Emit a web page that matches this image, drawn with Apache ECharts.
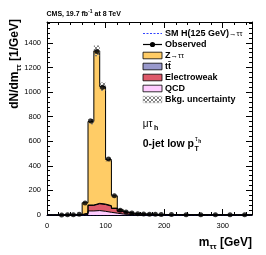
<!DOCTYPE html>
<html><head><meta charset="utf-8">
<script src="https://cdn.jsdelivr.net/npm/echarts@6/dist/echarts.min.js"></script>
<style>html,body{margin:0;padding:0;background:#fff}#c{width:266px;height:255px}</style>
</head><body><div id="c"></div>
<script>
// ---- data ----
const binEdges = [0,10,20,30,40,50,60,70,80,90,100,110,120,130,140,150,160,170,180,190,200,225,250,275,300,325,350];
const qcdValues = [0,0,0.3,0.5,0.8,1.5,4,33,36,30,22,15,8,5,3,2,1.5,1.2,1,0.8,0.6,0.4,0.3,0.2,0.1,0.1];
const ewkValues = [0,0,0.2,0.3,0.5,1,10,45,55,55,50,38,22,12,7,5,4,3,2.5,2,1.5,1,0.8,0.6,0.4,0.3];
const ttValues  = [0,0,0,0,0.1,0.1,1,3,4,4,4,3,3,2,2,1.5,1.5,1.2,1,1,0.8,0.6,0.5,0.4,0.3,0.2];
const zttValues = [0,0,0.5,1,2,4,85,680,1240,955,375,100,12,5,3,2,1.5,1,0.8,0.6,0.4,0.3,0.2,0.1,0.1,0.1];
const sigValues = [0,0,0,0,0,0,0.3,1,1.5,2,2.5,2.5,2,1.5,1,0.6,0.4,0.3,0.2,0.1,0.1,0,0,0,0,0];
const bkgUncValues = [0,0,0.1,0.1,0.2,0.3,5,24,44,34,15,6,2,1,0.6,0.4,0.3,0.3,0.2,0.2,0.1,0.1,0.1,0.1,0.05,0.05];
const observedValues = [null,null,1,2,3,6,98,765,1330,1040,455,157,38,24,16,11,8,7,6,5,4,3,2.5,2,1.5,1.2];
const xTickLabels = [0,100,200,300];
const yTickLabels = [0,200,400,600,800,1000,1200,1400];

// ---- helpers building library inputs from the arrays ----
const nBins = binEdges.length - 1;
function stepPoints(vals){ return binEdges.map((e,i)=>[e, vals[Math.min(i, nBins-1)]]); }
function addArr(a, b){ return a.map((v,i)=>v + b[i]); }
const cumQcd = qcdValues.slice();
const cumEwk = addArr(cumQcd, ewkValues);
const cumTt = addArr(cumEwk, ttValues);
const cumZtt = addArr(cumTt, zttValues);
const uncData = [];
for (let i=0;i<nBins;i++) if (bkgUncValues[i] > 0.5) uncData.push([binEdges[i], binEdges[i+1], cumZtt[i]-bkgUncValues[i], cumZtt[i]+bkgUncValues[i]]);
const obsData = [];
for (let i=0;i<nBins;i++) if (observedValues[i] !== null) obsData.push([(binEdges[i]+binEdges[i+1])/2, observedValues[i]]);

// hatch pattern
const hc = document.createElement('canvas'); hc.width = 4; hc.height = 4;
const hg = hc.getContext('2d'); hg.fillStyle = 'rgba(110,110,110,0.85)';
for (let i=0;i<4;i++){ hg.fillRect(i,i,1,1); hg.fillRect(3-i,i,1,1); }
const hatch = {image: hc, repeat: 'repeat'};

const FF = 'Liberation Sans, Arial, Helvetica, sans-serif';
const C_ZTT = '#FFCC66', C_TT = '#9999CC', C_EWK = '#DE5A6A', C_QCD = '#FFCCFF';

const axisCommon = {
  axisLine:{show:true, onZero:false, lineStyle:{color:'#000', width:1}},
  axisTick:{show:true, inside:true, length:6, lineStyle:{color:'#000', width:1}},
  minorTick:{show:true, splitNumber:5, length:3, lineStyle:{color:'#000', width:1}},
  splitLine:{show:false}, minorSplitLine:{show:false}
};

// each component drawn as its cumulative top, filled down to 0; later series paint over earlier ones
function layerSeries(name, cumVals, color){
  return {type:'line', name, step:'end', data: stepPoints(cumVals), symbol:'none',
    lineStyle:{color:'#000', width:1}, areaStyle:{color, opacity:1, origin:0}, itemStyle:{color}, z:3, silent:true};
}

const chart = echarts.init(document.getElementById('c'), null, {renderer:'canvas'});
const LX = 143, LW = 19, TX = 165;
const rows = [33.5, 44.5, 55.5, 66.5, 77.5, 88.5, 99.5];
const lt = (y, txt, rich) => ({type:'text', x:TX, y:y, style:{text:txt, rich:rich, fill:'#000', align:'left', verticalAlign:'middle', fontFamily:FF, fontSize:9, fontWeight:'bold'}, z:10});
const box = (y, fill) => ({type:'rect', shape:{x:LX, y:y-3.3, width:LW, height:6.6}, style:{fill:fill, stroke:'#000', lineWidth:0.8}, z:10});
const richLeg = {b:{fontSize:9, fontWeight:'bold', fontFamily:FF}, s:{fontSize:7.5, fontFamily:FF}};

chart.setOption({
  animation:false,
  backgroundColor:'#fff',
  grid:{left:47, top:22, width:205, height:193, outerBoundsMode:'none'},
  xAxis:[
    Object.assign({type:'value', min:0, max:350, interval:100, position:'bottom',
      axisLabel:{fontSize:7.5, color:'#000', margin:7, fontFamily:FF, formatter:v=> xTickLabels.includes(v)? String(v):''}}, axisCommon),
    Object.assign({type:'value', min:0, max:350, interval:100, position:'top', axisLabel:{show:false}}, axisCommon)
  ],
  yAxis:[
    Object.assign({type:'value', min:0, max:1570, interval:200, position:'left',
      axisLabel:{fontSize:7.5, color:'#000', margin:6, fontFamily:FF, formatter:v=> yTickLabels.includes(v)? String(v):''}}, axisCommon),
    Object.assign({type:'value', min:0, max:1570, interval:200, position:'right', axisLabel:{show:false}}, axisCommon)
  ],
  series:[
    {type:'line', name:'SM H(125 GeV)→ττ', step:'end', data: stepPoints(sigValues), symbol:'none',
      lineStyle:{color:'#0000ff', width:1, type:[2,1.5]}, z:1, silent:true},
    layerSeries('Z→ττ', cumZtt, C_ZTT),
    layerSeries('tt̄', cumTt, C_TT),
    layerSeries('Electroweak', cumEwk, C_EWK),
    layerSeries('QCD', cumQcd, C_QCD),
    {type:'custom', name:'Bkg. uncertainty', data: uncData, encode:{x:[0,1], y:[2,3]}, z:4, silent:true,
      renderItem:(params, api)=>{
        const p0 = api.coord([api.value(0), api.value(3)]);
        const p1 = api.coord([api.value(1), api.value(2)]);
        return {type:'rect', shape:{x:p0[0], y:p0[1], width:p1[0]-p0[0], height:p1[1]-p0[1]}, style:{fill:hatch}};
      }},
    {type:'scatter', name:'Observed', data: obsData, symbol:'circle', symbolSize:5, itemStyle:{color:'#000'}, z:6, silent:true}
  ],
  graphic:[
    {type:'text', x:46.5, y:14, style:{text:'{a|CMS, 19.7 fb}{u|-1}{a| at 8 TeV}', fill:'#000', align:'left', verticalAlign:'middle',
      rich:{a:{fontSize:7, fontWeight:'bold', fontFamily:FF, lineHeight:10}, u:{fontSize:5, fontWeight:'bold', fontFamily:FF, lineHeight:5, verticalAlign:'top'}}}},
    {type:'text', x:14.5, y:19, rotation:Math.PI/2, style:{text:'{a|dN/dm}{s|ττ}{a| [1/GeV]}', fill:'#000', align:'right', verticalAlign:'middle',
      rich:{a:{fontSize:12, fontWeight:'bold', fontFamily:FF, lineHeight:16}, s:{fontSize:8, fontWeight:'bold', fontFamily:FF, lineHeight:8, verticalAlign:'bottom'}}}},
    {type:'text', x:252, y:243, style:{text:'{a|m}{s|ττ}{a| [GeV]}', fill:'#000', align:'right', verticalAlign:'middle',
      rich:{a:{fontSize:12, fontWeight:'bold', fontFamily:FF, lineHeight:16}, s:{fontSize:8, fontWeight:'bold', fontFamily:FF, lineHeight:8, verticalAlign:'bottom'}}}},
    {type:'line', shape:{x1:LX, y1:rows[0], x2:LX+LW, y2:rows[0]}, style:{stroke:'#3344ff', lineWidth:1, lineDash:[2,1.5]}, z:10},
    lt(rows[0], '{b|SM H(125 GeV)}{s|→ττ}', richLeg),
    {type:'line', shape:{x1:LX, y1:rows[1], x2:LX+LW, y2:rows[1]}, style:{stroke:'#000', lineWidth:1.2}, z:10},
    {type:'circle', shape:{cx:LX+LW/2, cy:rows[1], r:2.6}, style:{fill:'#000'}, z:10},
    lt(rows[1], 'Observed'),
    box(rows[2], C_ZTT), lt(rows[2], '{b|Z}{s|→ττ}', richLeg),
    box(rows[3], C_TT), lt(rows[3], 'tt\u0304'),
    box(rows[4], C_EWK), lt(rows[4], 'Electroweak'),
    box(rows[5], C_QCD), lt(rows[5], 'QCD'),
    {type:'rect', shape:{x:LX, y:rows[6]-3.3, width:LW, height:6.6}, style:{fill:hatch, stroke:'#bbb', lineWidth:0.5}, z:10},
    lt(rows[6], 'Bkg. uncertainty'),
    {type:'text', x:142.7, y:124, style:{text:'μτ', fill:'#000', align:'left', verticalAlign:'middle', fontSize:10, fontFamily:FF}},
    {type:'text', x:154, y:128.5, style:{text:'h', fill:'#000', align:'left', verticalAlign:'middle', fontSize:7, fontWeight:'bold', fontFamily:FF}},
    {type:'text', x:142.7, y:144, style:{text:'0-jet low p', fill:'#000', align:'left', verticalAlign:'middle', fontSize:10.5, fontWeight:'bold', fontFamily:FF}},
    {type:'text', x:194.5, y:149, style:{text:'T', fill:'#000', align:'left', verticalAlign:'middle', fontSize:7, fontWeight:'bold', fontFamily:FF}},
    {type:'text', x:195, y:139.5, style:{text:'τ', fill:'#000', align:'left', verticalAlign:'middle', fontSize:6.5, fontFamily:FF}},
    {type:'text', x:198.3, y:141.5, style:{text:'h', fill:'#000', align:'left', verticalAlign:'middle', fontSize:5, fontWeight:'bold', fontFamily:FF}}
  ]
});
</script></body></html>
